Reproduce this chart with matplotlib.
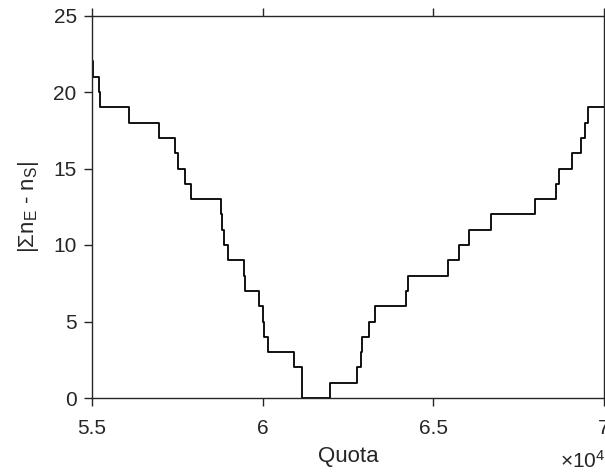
import matplotlib.pyplot as plt
import numpy as np

plt.rcParams['font.family'] = ['Liberation Sans', 'DejaVu Sans']
plt.rcParams['mathtext.default'] = 'regular'

# puntos donde cambia el escalón (Quota) y valor tras el cambio
quota = [55000, 55015, 55196, 55226, 56075, 56972, 57423, 57511, 57725, 57909,
         58771, 58818, 58867, 58984, 59462, 59491, 59893, 60019, 60030, 60156,
         60918, 61144, 61973, 62773, 62872, 62901, 63115, 63291, 64199, 64249,
         65439, 65761, 66054, 66690, 67970, 68594, 68691, 69054, 69318, 69435,
         69540, 70000]
diferencia = [22, 21, 20, 19, 18, 17, 16, 15, 14, 13,
              12, 11, 10, 9, 8, 7, 6, 5, 4, 3,
              2, 0, 1, 2, 3, 4, 5, 6, 7, 8,
              9, 10, 11, 12, 13, 14, 15, 16, 17, 18,
              19, 19]

xticks = [55000, 60000, 65000, 70000]
xticklabels = ['5.5', '6', '6.5', '7']
yticks = [0, 5, 10, 15, 20, 25]

fig = plt.figure(figsize=(6.05, 4.74), dpi=100)
ax = fig.add_axes([92 / 605, 1 - 398 / 474, 512 / 605, (398 - 15.5) / 474])

ax.step(quota, diferencia, where='post', color='black', linewidth=1.3)

ax.set_xlim(55000, 70000)
ax.set_ylim(0, 25)
ax.set_xticks(xticks)
ax.set_xticklabels(xticklabels)
ax.set_yticks(yticks)

for s in ax.spines.values():
    s.set_color('#262626')
    s.set_linewidth(1.0)
ax.tick_params(direction='out', length=6, width=1.0, color='#262626',
               labelsize=15, labelcolor='#262626', top=True, right=True)
ax.tick_params(axis='x', pad=9)
ax.tick_params(axis='y', pad=5)

ax.set_xlabel('Quota', fontsize=16, color='#262626', labelpad=6)
ax.set_ylabel('|Σn$_E$ - n$_S$|', fontsize=16, color='#262626', labelpad=9)
fig.text(1.0, 0.005, r'$\times$10$^4$', ha='right', va='bottom',
         fontsize=15, color='#262626')

fig.savefig('out.png', dpi=100)
